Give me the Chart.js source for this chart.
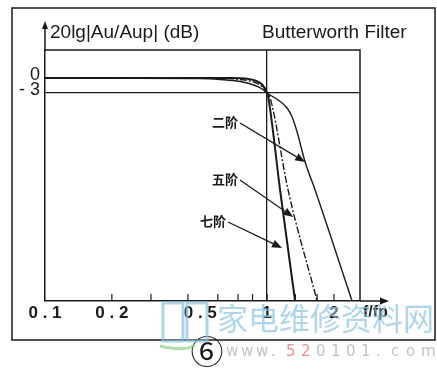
<!DOCTYPE html>
<html>
<head>
<meta charset="utf-8">
<script src="https://cdn.jsdelivr.net/npm/chart.js@4/dist/chart.umd.min.js"></script>
<style>
  html, body { margin: 0; padding: 0; background: #fff; }
</style>
</head>
<body>
<canvas id="Chart" width="437" height="376"></canvas>
<script>
// tick values / labels
const xTickValues = [0.1, 0.2, 0.5, 1, 2];
const xTickLabels = ["0 . 1", "0 . 2", "0 . 5", "1", "2"];
const xMinorTicks = [0.2, 0.3, 0.44, 0.6, 0.74, 0.86, 1, 1.34, 1.68, 2];
const yTickValues = [0, -3];
const yTickLabels = ["0", "- 3"];

// f/fp and gain (dB) for each order
const freq2 = [0.1, 0.5, 0.614, 0.756, 0.883, 0.95, 1, 1.121, 1.23, 1.296, 1.365, 1.483, 1.645, 2.413];
const gain2 = [0, -0.1, -0.3, -0.7, -1.5, -2.2, -3, -4.4, -6.0, -7.8, -10.8, -16.8, -22.4, -44.6];
const freq5 = [0.1, 0.6, 0.756, 0.883, 0.95, 1, 1.032, 1.243, 1.68];
const gain5 = [0, 0, -0.3, -0.9, -1.7, -3, -4.0, -22.4, -44.6];
const freq7 = [0.1, 0.7, 0.8, 0.883, 0.95, 1, 1.01, 1.144, 1.337];
const gain7 = [0, 0, -0.1, -0.5, -1.3, -3, -3.6, -22.4, -44.6];
const seriesNames = ["二阶", "五阶", "七阶"];

// arrow annotations, in data units (tail -> head)
const arrowTails = [[0.755, -9.0], [0.755, -20.4], [0.667, -28.8]];
const arrowHeads = [[1.483, -16.8], [1.31, -27.8], [1.168, -34.0]];

const black = "#1a1a1a";
const toPoints = (xs, ys) => xs.map((v, i) => ({ x: v, y: ys[i] }));

function arrow(ctx, x1, y1, x2, y2, len, half) {
  const ang = Math.atan2(y2 - y1, x2 - x1);
  const bx = x2 - len * Math.cos(ang), by = y2 - len * Math.sin(ang);
  ctx.beginPath();
  ctx.moveTo(x1, y1);
  ctx.lineTo(bx, by);
  ctx.stroke();
  ctx.beginPath();
  ctx.moveTo(x2, y2);
  ctx.lineTo(bx + half * Math.sin(ang), by - half * Math.cos(ang));
  ctx.lineTo(bx - half * Math.sin(ang), by + half * Math.cos(ang));
  ctx.closePath();
  ctx.fill();
}

const decor = {
  id: "decor",
  afterDraw(chart) {
    const { ctx, chartArea: a, scales: { x, y } } = chart;
    ctx.save();
    ctx.strokeStyle = black;
    ctx.fillStyle = black;

    // outer frame + plot box
    ctx.lineWidth = 1.5;
    ctx.strokeRect(12, 8, 423, 332);
    ctx.beginPath();
    ctx.moveTo(a.left, a.top);
    ctx.lineTo(a.right, a.top);
    ctx.lineTo(a.right, a.bottom);
    ctx.stroke();

    // axis arrows
    arrow(ctx, a.left, a.top, a.left, 21, 8, 3);
    arrow(ctx, a.right, a.bottom, 389, a.bottom, 9, 3.5);

    // minor tick marks pointing up
    ctx.lineWidth = 1.2;
    xMinorTicks.forEach((v) => {
      const px = x.getPixelForValue(v);
      ctx.beginPath();
      ctx.moveTo(px, a.bottom);
      ctx.lineTo(px, a.bottom - 7);
      ctx.stroke();
    });

    // titles
    ctx.font = '19px "Liberation Sans", Arial, sans-serif';
    ctx.textBaseline = "middle";
    ctx.textAlign = "left";
    ctx.fillText("20lg|Au/Aup| (dB)", 50, 33);
    ctx.fillText("Butterworth Filter", 262, 33);
    ctx.font = 'bold 16px "Liberation Sans", Arial, sans-serif';
    ctx.fillText("f/fp", 363, 313);

    // order labels with arrows
    ctx.lineWidth = 1.3;
    ctx.font = 'bold 13px "Noto Sans CJK SC", sans-serif';
    ctx.textAlign = "right";
    seriesNames.forEach((name, i) => {
      const tx = x.getPixelForValue(arrowTails[i][0]);
      const ty = y.getPixelForValue(arrowTails[i][1]);
      const hx = x.getPixelForValue(arrowHeads[i][0]);
      const hy = y.getPixelForValue(arrowHeads[i][1]);
      ctx.fillText(name, tx - 2, ty - 1);
      arrow(ctx, tx, ty, hx, hy, 10, 4);
    });

    // figure number
    ctx.textAlign = "center";
    ctx.font = '33px "DejaVu Serif", "Noto Sans CJK SC", serif';
    ctx.fillText("⑥", 207, 355);

    // site watermark
    ctx.globalAlpha = 0.7;
    ctx.strokeStyle = "#8ec3e0";
    ctx.lineWidth = 3;
    ctx.strokeRect(163, 303, 20, 38);
    ctx.strokeRect(187, 303, 20, 38);
    ctx.strokeStyle = "#8fd08a";
    ctx.beginPath();
    ctx.moveTo(160, 346);
    ctx.quadraticCurveTo(185, 352, 195, 345);
    ctx.stroke();
    ctx.fillStyle = "#8ec3e0";
    ctx.font = '31px "Noto Sans CJK SC", sans-serif';
    ctx.textAlign = "left";
    ctx.fillText("家电维修资料网", 217, 318);
    ctx.font = '15px "DejaVu Sans", sans-serif';
    const site = "www.520101.com";
    for (let i = 0; i < site.length; i++) {
      ctx.fillStyle = (i === 4 || i === 5) ? "#e06060" : "#a8a8a8";
      ctx.fillText(site[i], 226 + i * 15, 352);
    }
    ctx.restore();
  },
};

new Chart("Chart", {
  type: "line",
  data: {
    datasets: [
      { label: seriesNames[0], data: toPoints(freq2, gain2), borderColor: black, borderWidth: 1.4 },
      { label: seriesNames[1], data: toPoints(freq5, gain5), borderColor: black, borderWidth: 1.4, borderDash: [7, 2, 2, 2] },
      { label: seriesNames[2], data: toPoints(freq7, gain7), borderColor: black, borderWidth: 2 },
    ],
  },
  options: {
    responsive: false,
    animation: false,
    layout: { padding: { top: 50, right: 77, left: 0, bottom: 0 } },
    elements: {
      point: { radius: 0 },
      line: { cubicInterpolationMode: "monotone" },
    },
    plugins: { legend: { display: false }, tooltip: { enabled: false } },
    scales: {
      x: {
        type: "logarithmic",
        min: 0.1,
        max: 2.62,
        afterBuildTicks: (s) => { s.ticks = xTickValues.map((v) => ({ value: v })); },
        afterFit: (s) => { s.height = 75; },
        ticks: {
          callback: (v, i) => xTickLabels[i],
          color: black,
          font: { family: '"Liberation Sans", Arial, sans-serif', size: 17, weight: "bold" },
          padding: 2,
          maxRotation: 0,
          autoSkip: false,
        },
        grid: {
          drawTicks: false,
          lineWidth: 1.3,
          color: (c) => (c.tick && c.tick.value === 1 ? black : "transparent"),
        },
        border: { color: black, width: 1.5 },
      },
      y: {
        min: -44.6,
        max: 5.6,
        afterBuildTicks: (s) => { s.ticks = yTickValues.map((v) => ({ value: v })); },
        afterFit: (s) => { s.width = 45; },
        ticks: {
          callback: (v, i) => yTickLabels[i],
          color: black,
          font: { family: '"Liberation Sans", Arial, sans-serif', size: 18 },
          padding: 5,
          labelOffset: -3,
        },
        grid: {
          drawTicks: false,
          lineWidth: 1.3,
          color: (c) => (c.tick && c.tick.value === -3 ? black : "transparent"),
        },
        border: { color: black, width: 1.5 },
      },
    },
  },
  plugins: [decor],
});
</script>
</body>
</html>
